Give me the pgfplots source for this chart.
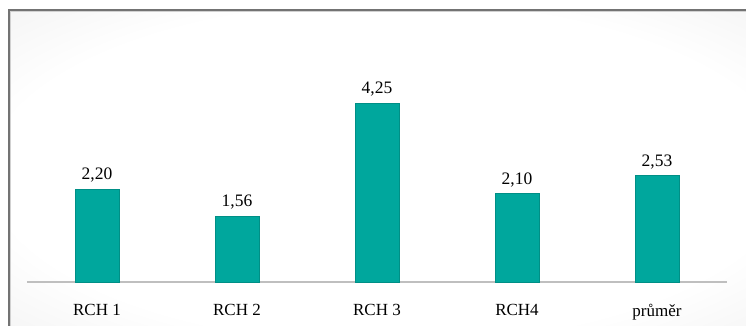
\documentclass[border=0pt]{standalone}
\usepackage{pgfplots}
\pgfplotsset{compat=1.18}
\usepackage{fontspec}
\setmainfont{Liberation Serif}
\definecolor{barfill}{HTML}{00A79D}
\definecolor{baredge}{HTML}{008F86}
\pgfdeclareradialshading{bgshade}{\pgfpoint{0bp}{0bp}}{color(0bp)=(white); color(26bp)=(white); color(50bp)=(black!10); color(72bp)=(black!20)}
\begin{document}
\begin{tikzpicture}
\useasboundingbox (0pt,0pt) rectangle (746pt,325pt);
\clip (0pt,0pt) rectangle (746pt,325pt);
\fill[white] (0pt,0pt) rectangle (746pt,325pt);
\shade[shading=bgshade] (9pt,-10pt) rectangle (770pt,315pt);
\draw[black!55, line width=1.6pt] (9pt,-20pt) -- (9pt,315pt) -- (800pt,315pt);
\draw[black!18, line width=0.8pt] (10.5pt,-20pt) -- (10.5pt,313.5pt) -- (800pt,313.5pt);
\begin{axis}[
  at={(27pt,43pt)}, anchor=south west,
  scale only axis, width=700pt, height=189.5pt,
  xmin=-0.5, xmax=4.5, ymin=0, ymax=4.5,
  axis x line=bottom, axis y line=none,
  x axis line style={-, black!25, line width=1.6pt},
  xtick=data,
  xticklabels={RCH 1, RCH 2, RCH 3, RCH4, průměr},
  major tick length=0pt,
  xticklabel style={font=\fontsize{17}{20}\selectfont, text=black, yshift=-19pt},
  ybar, bar width=44pt,
  nodes near coords,
  every node near coord/.append style={font=\fontsize{17.5}{20}\selectfont, text=black, yshift=3pt},
  /pgf/number format/.cd, use comma, fixed, fixed zerofill, precision=2, assume math mode=true,
]
\addplot[fill=barfill, draw=baredge, line width=0.8pt] coordinates {(0,2.20) (1,1.56) (2,4.25) (3,2.10) (4,2.53)};
\end{axis}
\end{tikzpicture}
\end{document}
